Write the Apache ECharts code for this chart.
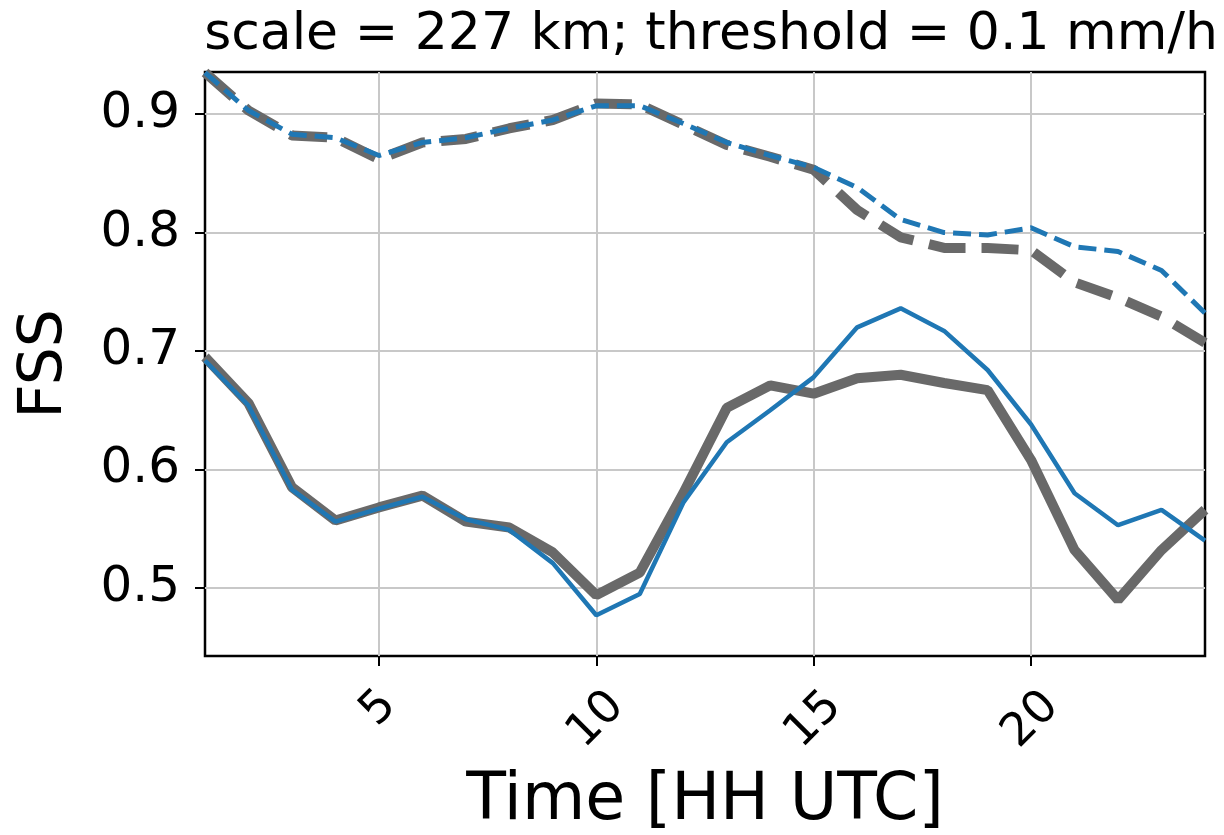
<!DOCTYPE html>
<html lang="en">
<head>
    <meta charset="UTF-8">
    <title>FSS</title>
    <script src="https://cdn.jsdelivr.net/npm/echarts@6/dist/echarts.min.js"></script>
    <style>
        body { margin: 0; background: #fff; }
        #chart { width: 1224px; height: 835px; }
    </style>
</head>
<body>
<div id="chart"></div>
<script>
    // hours on the x axis
    var hours = [1, 2, 3, 4, 5, 6, 7, 8, 9, 10, 11, 12, 13, 14, 15, 16, 17, 18, 19, 20, 21, 22, 23, 24];

    // FSS values
    var solidGray = [0.695, 0.656, 0.585, 0.557, 0.568, 0.578, 0.556, 0.551, 0.530, 0.494, 0.513, 0.580,
                     0.652, 0.671, 0.664, 0.677, 0.680, 0.673, 0.667, 0.608, 0.532, 0.490, 0.532, 0.566];
    var solidBlue = [0.692, 0.654, 0.583, 0.556, 0.567, 0.577, 0.558, 0.549, 0.521, 0.477, 0.495, 0.572,
                     0.623, 0.650, 0.678, 0.720, 0.736, 0.717, 0.684, 0.638, 0.580, 0.553, 0.566, 0.540];
    var dashGray  = [0.935, 0.903, 0.882, 0.880, 0.862, 0.876, 0.879, 0.888, 0.895, 0.909, 0.908, 0.891,
                     0.874, 0.864, 0.853, 0.819, 0.796, 0.787, 0.787, 0.785, 0.758, 0.745, 0.729, 0.707];
    var dashBlue  = [0.935, 0.903, 0.883, 0.880, 0.865, 0.876, 0.880, 0.888, 0.895, 0.907, 0.907, 0.892,
                     0.876, 0.865, 0.855, 0.838, 0.811, 0.800, 0.798, 0.804, 0.788, 0.784, 0.768, 0.732];

    var xTicks = [5, 10, 15, 20];
    var yTicks = [0.5, 0.6, 0.7, 0.8, 0.9];

    function pairs(vals) {
        var out = [];
        for (var i = 0; i < hours.length; i++) {
            out.push([hours[i], vals[i]]);
        }
        return out;
    }

    var font = 'DejaVu Sans';
    var gray = '#696969';
    var blue = '#1f77b4';

    var myChart = echarts.init(document.getElementById('chart'));
    var option = {
        animation: false,
        title: {
            text: 'scale = 227 km; threshold = 0.1 mm/h',
            left: 706,
            textAlign: 'center',
            top: 4,
            textStyle: { fontFamily: font, fontSize: 52, fontWeight: 'normal', color: '#000' }
        },
        grid: {
            left: 205, right: 19, top: 72, bottom: 179,
            outerBoundsMode: 'none',
            show: true,
            borderColor: '#000',
            borderWidth: 2.5,
            backgroundColor: 'transparent'
        },
        xAxis: {
            type: 'value',
            min: 1,
            max: 24,
            name: 'Time [HH UTC]',
            nameLocation: 'middle',
            nameGap: 114,
            nameTextStyle: { fontFamily: font, fontSize: 65, color: '#000' },
            axisLine: { show: false },
            axisTick: { show: true, length: 10, customValues: xTicks, lineStyle: { color: '#000', width: 2 } },
            axisLabel: {
                customValues: xTicks,
                rotate: 45,
                align: 'center',
                verticalAlign: 'middle',
                margin: 64,
                fontFamily: font,
                fontSize: 46,
                color: '#000',
                // single digit labels sit higher in the reference (top aligned boxes)
                formatter: function (v) {
                    return String(v).length < 2 ? '{one|' + v + '}' : '{two|' + v + '}';
                },
                rich: {
                    one: { fontFamily: font, fontSize: 46, color: '#000', padding: [0, 0, 16, 16] },
                    two: { fontFamily: font, fontSize: 46, color: '#000' }
                }
            },
            splitLine: { show: true, lineStyle: { color: '#c8c8c8', width: 2 } }
        },
        yAxis: {
            type: 'value',
            min: 0.4426,
            max: 0.9355,
            name: 'FSS',
            nameLocation: 'middle',
            nameGap: 130,
            nameTextStyle: { fontFamily: font, fontSize: 60, color: '#000' },
            axisLine: { show: false },
            axisTick: { show: true, length: 10, customValues: yTicks, lineStyle: { color: '#000', width: 2 } },
            axisLabel: {
                customValues: yTicks,
                margin: 25,
                fontFamily: font,
                fontSize: 50,
                color: '#000',
                formatter: function (v) { return v.toFixed(1); }
            },
            splitLine: { show: true, lineStyle: { color: '#c8c8c8', width: 2 } }
        },
        series: [
            {
                name: 'gray dashed',
                type: 'line',
                data: pairs(dashGray),
                showSymbol: false,
                lineStyle: { color: gray, width: 10, type: [37, 16] }
            },
            {
                name: 'blue dashed',
                type: 'line',
                data: pairs(dashBlue),
                showSymbol: false,
                lineStyle: { color: blue, width: 5, type: [18, 8] }
            },
            {
                name: 'gray solid',
                type: 'line',
                data: pairs(solidGray),
                showSymbol: false,
                lineStyle: { color: gray, width: 10 }
            },
            {
                name: 'blue solid',
                type: 'line',
                data: pairs(solidBlue),
                showSymbol: false,
                lineStyle: { color: blue, width: 4.5 }
            }
        ]
    };
    myChart.setOption(option);
</script>
</body>
</html>
